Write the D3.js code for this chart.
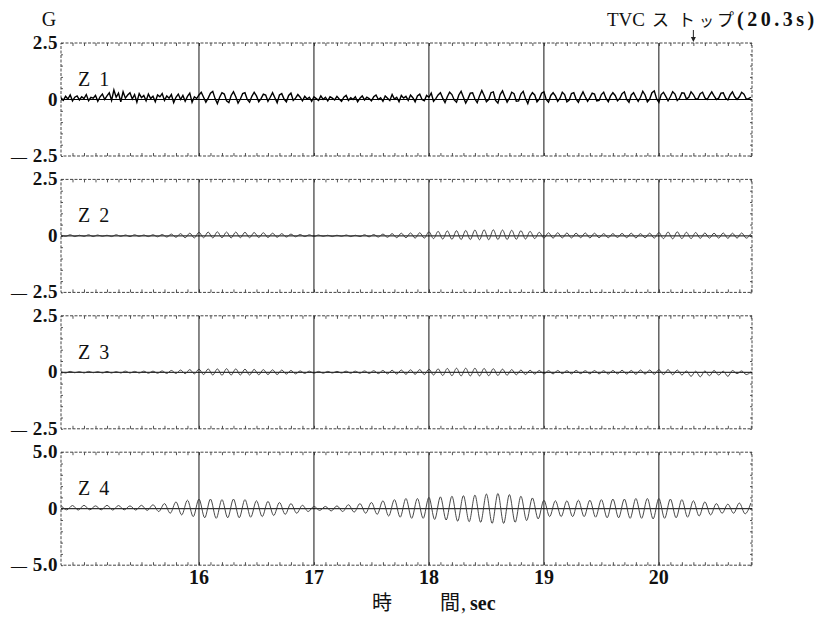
<!doctype html>
<html lang="ja">
<head>
<meta charset="UTF-8">
<title>Z1-Z4 加速度</title>
<style>
  body { margin: 0; background: #fff; }
  svg text { font-family: "Liberation Serif", "Times New Roman", serif; fill: #111; }
  .jp { font-family: "Noto Sans CJK JP", sans-serif; }
  .frame { fill: none; stroke: #444; stroke-width: 1; stroke-dasharray: 3,1.5; }
  .grid { stroke: #111; stroke-width: 1; }
  .zero { stroke: #000; stroke-width: 1; }
  .trace { fill: none; stroke: #333; stroke-width: 0.9; }
  .trace.z1 { stroke: #000; stroke-width: 1.4; }
  .minor line { stroke: #555; }
  .minor path { display: none; }
</style>
</head>
<body>
<svg width="827" height="619"></svg>
<script src="https://d3js.org/d3.v7.min.js"></script>
<script>
  // time axis (sec)
  const timeDomain = [14.8, 20.81]
  const secTicks = [16, 17, 18, 19, 20]
  const tvcStop = 20.3

  const panelNames = ['Z 1', 'Z 2', 'Z 3', 'Z 4']
  const panelLimits = [2.5, 2.5, 2.5, 5.0]
  const yTickLabels = [
    ['2.5', '0', '2.5'],
    ['2.5', '0', '2.5'],
    ['2.5', '0', '2.5'],
    ['5.0', '0', '5.0']
  ]

  // samples start at 14.8 s, one value per step
  const sampleStart = 14.8
  const z1Step = 0.02
  const z23Step = 0.04
  const z4Step = 0.05

  // Z1 (G), noisy trace, 15 values per 0.3 s
  const z1Values = [
    0.08, -0.04, 0.14, 0.02, 0.2, -0.06, 0.1, 0.16, -0.02, 0.12, 0.04, 0.22, -0.05, 0.1, 0.06,
    0.18, -0.08, 0.12, 0.24, 0.0, 0.16, 0.3, -0.04, 0.42, 0.1, 0.28, -0.1, 0.34, 0.06, 0.2,
    0.3, 0.02, 0.22, -0.12, 0.26, 0.08, 0.18, -0.06, 0.24, 0.04, 0.14, -0.1, 0.2, 0.12, 0.26,
    -0.04, 0.16, 0.06, 0.22, -0.14, 0.1, 0.24, 0.0, 0.18, -0.08, 0.14, 0.28, -0.12, 0.12, 0.04,
    0.2, 0.32, 0.1, -0.12, 0.06, 0.28, 0.36, 0.04, -0.18, 0.1, 0.3, 0.24, -0.06, -0.14, 0.18,
    0.34, 0.12, -0.16, 0.02, 0.26, 0.3, 0.0, -0.12, 0.14, 0.32, 0.16, -0.1, 0.04, 0.24, 0.2,
    -0.08, 0.1, 0.3, 0.08, -0.14, 0.2, 0.26, 0.02, -0.1, 0.18, 0.28, -0.04, 0.06, 0.22, 0.1,
    -0.06, 0.14, 0.02, 0.1, -0.08, 0.12, 0.04, -0.04, 0.16, 0.0, 0.1, -0.06, 0.12, 0.06, -0.02,
    0.14, 0.02, -0.08, 0.1, 0.18, -0.04, 0.08, 0.0, 0.12, -0.1, 0.06, 0.16, -0.02, 0.1, 0.04,
    -0.06, 0.12, 0.2, 0.0, 0.08, -0.08, 0.16, 0.06, -0.04, 0.22, 0.02, 0.1, -0.1, 0.18, 0.06,
    0.14, -0.04, 0.2, 0.08, -0.1, 0.16, 0.24, 0.0, -0.06, 0.18, 0.1, 0.28, -0.08, 0.04, 0.2,
    0.3, 0.06, -0.14, 0.12, 0.32, 0.22, -0.02, -0.12, 0.2, 0.36, 0.1, -0.16, 0.04, 0.28, 0.3,
    0.02, -0.14, 0.16, 0.4, 0.18, -0.1, 0.0, 0.3, 0.34, -0.04, -0.16, 0.22, 0.38, 0.12, -0.12,
    0.06, 0.32, 0.26, -0.08, -0.06, 0.24, 0.36, 0.04, -0.18, 0.14, 0.3, 0.2, -0.1, 0.02, 0.28,
    0.34, 0.0, -0.12, 0.18, 0.3, 0.16, -0.08, 0.06, 0.32, 0.22, -0.1, -0.02, 0.26, 0.3, 0.02,
    -0.12, 0.14, 0.34, 0.12, -0.08, 0.08, 0.28, 0.24, -0.06, -0.04, 0.22, 0.32, 0.06, -0.1, 0.16,
    0.3, 0.18, -0.06, 0.04, 0.26, 0.34, 0.0, -0.12, 0.2, 0.3, 0.1, -0.08, 0.1, 0.36, 0.2,
    -0.1, 0.02, 0.3, 0.38, 0.04, -0.12, 0.22, 0.32, 0.14, -0.06, 0.12, 0.34, 0.24, -0.04, 0.06,
    0.3, 0.28, 0.02, 0.1, 0.34, 0.22, 0.02, 0.04, 0.26, 0.32, 0.08, 0.0, 0.18, 0.34, 0.16,
    0.0, 0.06, 0.28, 0.3, 0.06, -0.02, 0.2, 0.34, 0.12, 0.0, 0.12, 0.32, 0.24, 0.02, 0.04,
    0.1
  ]

  // Z2 (G), peaks and troughs
  const z2Values = [
    0.04, -0.02, 0.05, -0.03, 0.03, -0.02, 0.05, -0.03, 0.04, -0.02,
    0.03, -0.03, 0.05, -0.02, 0.04, -0.03, 0.05, -0.02, 0.04, -0.03,
    0.05, -0.04, 0.06, -0.05, 0.08, -0.06, 0.1, -0.08, 0.12, -0.09,
    0.16, -0.08, 0.17, -0.09, 0.18, -0.08, 0.17, -0.09, 0.17, -0.08,
    0.16, -0.08, 0.15, -0.07, 0.14, -0.07, 0.12, -0.06, 0.1, -0.05,
    0.08, -0.04, 0.06, -0.03, 0.05, -0.03, 0.04, -0.02, 0.03, -0.03,
    0.03, -0.02, 0.04, -0.03, 0.03, -0.03, 0.05, -0.04, 0.06, -0.05,
    0.08, -0.06, 0.1, -0.08, 0.12, -0.08, 0.13, -0.1, 0.14, -0.1,
    0.18, -0.12, 0.2, -0.14, 0.22, -0.15, 0.23, -0.16, 0.24, -0.16,
    0.26, -0.17, 0.27, -0.17, 0.27, -0.16, 0.26, -0.16, 0.25, -0.15,
    0.23, -0.14, 0.2, -0.12, 0.16, -0.1, 0.14, -0.1, 0.14, -0.09,
    0.13, -0.09, 0.12, -0.08, 0.13, -0.09, 0.12, -0.08, 0.1, -0.08,
    0.1, -0.07, 0.11, -0.08, 0.12, -0.09, 0.1, -0.08, 0.12, -0.1,
    0.15, -0.12, 0.17, -0.13, 0.18, -0.12, 0.16, -0.12, 0.15, -0.11,
    0.13, -0.1, 0.12, -0.1, 0.13, -0.11, 0.12, -0.1, 0.13, -0.1,
    0.1
  ]

  // Z3 (G), peaks and troughs
  const z3Values = [
    0.03, -0.03, 0.04, -0.02, 0.03, -0.03, 0.04, -0.02, 0.03, -0.03,
    0.04, -0.03, 0.03, -0.03, 0.05, -0.03, 0.04, -0.03, 0.05, -0.04,
    0.05, -0.04, 0.06, -0.05, 0.08, -0.05, 0.1, -0.06, 0.12, -0.07,
    0.14, -0.1, 0.15, -0.12, 0.15, -0.13, 0.16, -0.12, 0.15, -0.12,
    0.14, -0.12, 0.13, -0.11, 0.12, -0.1, 0.11, -0.1, 0.1, -0.08,
    0.08, -0.07, 0.06, -0.05, 0.05, -0.04, 0.04, -0.04, 0.04, -0.03,
    0.04, -0.03, 0.05, -0.04, 0.05, -0.04, 0.06, -0.05, 0.07, -0.06,
    0.08, -0.07, 0.09, -0.08, 0.1, -0.09, 0.11, -0.09, 0.12, -0.1,
    0.14, -0.12, 0.15, -0.14, 0.17, -0.15, 0.18, -0.16, 0.18, -0.16,
    0.18, -0.16, 0.17, -0.15, 0.16, -0.14, 0.14, -0.13, 0.12, -0.11,
    0.1, -0.1, 0.09, -0.08, 0.08, -0.07, 0.07, -0.07, 0.08, -0.06,
    0.07, -0.07, 0.08, -0.06, 0.07, -0.07, 0.08, -0.07, 0.07, -0.08,
    0.08, -0.07, 0.09, -0.08, 0.08, -0.09, 0.1, -0.08, 0.1, -0.09,
    0.12, -0.1, 0.12, -0.11, 0.1, -0.12, 0.06, -0.18, 0.05, -0.2,
    0.06, -0.15, 0.08, -0.12, 0.05, -0.18, 0.08, -0.06, 0.06, -0.1,
    0.02
  ]

  // Z4 (G), peaks and troughs
  const z4Values = [
    0.3, -0.1, 0.28, -0.12, 0.3, -0.1, 0.25, -0.1, 0.3, -0.12,
    0.28, -0.1, 0.25, -0.12, 0.3, -0.15, 0.35, -0.25, 0.45, -0.4,
    0.6, -0.55, 0.75, -0.7, 0.85, -0.8, 0.85, -0.85, 0.8, -0.8,
    0.85, -0.8, 0.8, -0.75, 0.7, -0.7, 0.65, -0.6, 0.55, -0.5,
    0.45, -0.4, 0.3, -0.25, 0.2, -0.15, 0.2, -0.2, 0.25, -0.25,
    0.35, -0.3, 0.45, -0.4, 0.55, -0.5, 0.7, -0.65, 0.8, -0.75,
    0.9, -0.85, 0.9, -0.85, 1.0, -0.95, 1.05, -1.0, 1.1, -1.1,
    1.15, -1.15, 1.2, -1.2, 1.3, -1.3, 1.35, -1.3, 1.25, -1.2,
    1.1, -1.05, 0.95, -0.9, 0.75, -0.7, 0.7, -0.7, 0.7, -0.7,
    0.75, -0.7, 0.75, -0.75, 0.8, -0.8, 0.85, -0.8, 0.85, -0.85,
    0.9, -0.85, 0.9, -0.9, 0.9, -0.85, 0.85, -0.8, 0.8, -0.75,
    0.7, -0.65, 0.6, -0.55, 0.45, -0.4, 0.4, -0.4, 0.5, -0.45,
    0.5
  ]

  const series = [
    { values: z1Values, step: z1Step, cls: 'z1', curve: d3.curveLinear },
    { values: z2Values, step: z23Step, cls: 'z2', curve: d3.curveMonotoneX },
    { values: z3Values, step: z23Step, cls: 'z3', curve: d3.curveMonotoneX },
    { values: z4Values, step: z4Step, cls: 'z4', curve: d3.curveMonotoneX }
  ]

  const svg = d3.select('svg')
  const left = 61, right = 752
  const panelTop0 = 43, panelGap = 136.4, panelH = 113

  const x = d3.scaleLinear().domain(timeDomain).range([left, right])
  const minorX = d3.range(14.9, 20.81, 0.1)

  series.forEach((s, i) => {
    const top = panelTop0 + i * panelGap
    const lim = panelLimits[i]
    const y = d3.scaleLinear().domain([-lim, lim]).range([top + panelH, top])
    const g = svg.append('g')

    g.append('clipPath').attr('id', 'clip' + i)
      .append('rect').attr('x', left).attr('y', top).attr('width', right - left).attr('height', panelH)

    // minor ticks on the frame
    g.append('g').attr('class', 'minor').attr('transform', `translate(0,${top})`)
      .call(d3.axisTop(x).tickValues(minorX).tickSize(-3).tickFormat(''))
    g.append('g').attr('class', 'minor').attr('transform', `translate(0,${top + panelH})`)
      .call(d3.axisBottom(x).tickValues(minorX).tickSize(-3).tickFormat(''))
    const minorY = d3.range(-lim, lim + 0.001, lim / 5)
    g.append('g').attr('class', 'minor').attr('transform', `translate(${left},0)`)
      .call(d3.axisLeft(y).tickValues(minorY).tickSize(-2).tickFormat(''))
    g.append('g').attr('class', 'minor').attr('transform', `translate(${right},0)`)
      .call(d3.axisRight(y).tickValues(minorY).tickSize(-2).tickFormat(''))

    g.append('rect').attr('class', 'frame')
      .attr('x', left).attr('y', top).attr('width', right - left).attr('height', panelH)

    g.selectAll('line.grid').data(secTicks).enter().append('line')
      .attr('class', 'grid')
      .attr('x1', d => x(d)).attr('x2', d => x(d))
      .attr('y1', top).attr('y2', top + panelH)

    g.append('line').attr('class', 'zero')
      .attr('x1', left).attr('x2', right).attr('y1', y(0)).attr('y2', y(0))

    const line = d3.line()
      .x((d, k) => x(sampleStart + k * s.step))
      .y(d => y(d))
      .curve(s.curve)
    g.append('path').attr('class', 'trace ' + s.cls)
      .attr('clip-path', `url(#clip${i})`)
      .attr('d', line(s.values))

    // y labels: top, zero, bottom
    const labs = yTickLabels[i]
    const ly = [y(lim), y(0), y(-lim)]
    labs.forEach((t, k) => {
      g.append('text').attr('x', 58).attr('y', ly[k] + 6)
        .attr('text-anchor', 'end').attr('font-size', 19).attr('font-weight', 'bold')
        .attr('letter-spacing', 0.5)
        .text(t)
      if (k === 2) {
        g.append('text').attr('x', 11).attr('y', ly[k] + 6)
          .attr('font-size', 16).text('—')
      }
    })

    g.append('text').attr('x', 78).attr('y', top + 43).attr('font-size', 20)
      .attr('letter-spacing', 2).text(panelNames[i])
  })

  const bottom = panelTop0 + 3 * panelGap + panelH
  svg.selectAll('text.xlab').data(secTicks).enter().append('text')
    .attr('class', 'xlab')
    .attr('x', d => x(d)).attr('y', bottom + 19)
    .attr('text-anchor', 'middle').attr('font-size', 20).attr('font-weight', 'bold')
    .text(d => d)

  // axis title
  const title = svg.append('text').attr('y', 610).attr('font-size', 20)
  title.append('tspan').attr('class', 'jp').attr('x', 372).text('時')
  title.append('tspan').attr('class', 'jp').attr('x', 440).text('間')
  title.append('tspan').attr('x', 461).text(',')
  title.append('tspan').attr('x', 470).attr('font-weight', 'bold').text('sec')

  svg.append('text').attr('x', 49).attr('y', 26).attr('text-anchor', 'middle')
    .attr('font-size', 20).text('G')

  // TVC stop annotation
  const note = svg.append('text').attr('y', 26).attr('font-size', 19)
  note.append('tspan').attr('x', 607).text('TVC')
  note.append('tspan').attr('class', 'jp').attr('x', 652).attr('font-size', 17).text('ス')
  note.append('tspan').attr('class', 'jp').attr('x', 678).attr('font-size', 17).text('ト')
  note.append('tspan').attr('class', 'jp').attr('x', 699).attr('font-size', 15).text('ッ')
  note.append('tspan').attr('class', 'jp').attr('x', 717).attr('font-size', 17).text('プ')
  note.append('tspan').attr('x', 737).attr('font-size', 20).attr('font-weight', 'bold')
    .attr('letter-spacing', 3.5).text('(20.3s)')

  const ax = x(tvcStop)
  svg.append('line').attr('x1', ax).attr('x2', ax).attr('y1', 30).attr('y2', 40)
    .attr('stroke', '#222').attr('stroke-width', 1)
  svg.append('path').attr('d', `M${ax - 2.5},37 L${ax + 2.5},37 L${ax},42 Z`).attr('fill', '#222')
</script>
</body>
</html>
